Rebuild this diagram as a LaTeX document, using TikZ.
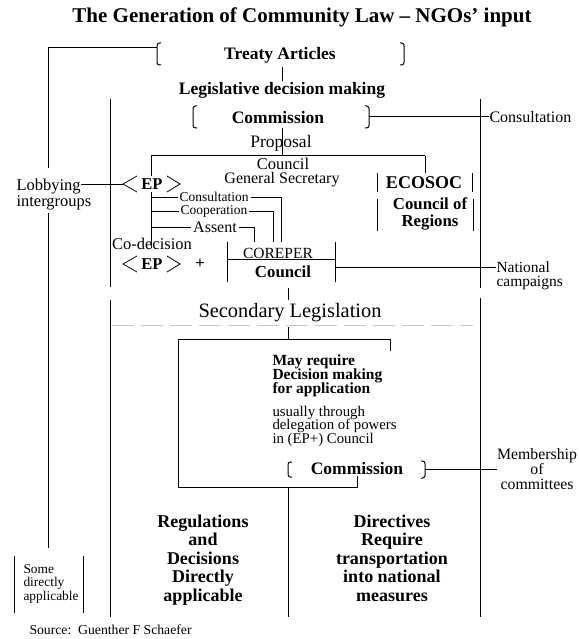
\documentclass[tikz,border=0pt]{standalone}
\usepackage{fontspec}
\setmainfont{Liberation Serif}
\usepackage{tikz}
\newcommand{\tightlines}{\lineskiplimit=-20pt\relax}

\begin{document}
\begin{tikzpicture}[x=1pt,y=-1pt,line width=1pt,
  every node/.style={inner sep=0pt},
  txt/.style={font=\fontsize{#1}{#1}\selectfont},
  btxt/.style={font=\fontsize{#1}{#1}\selectfont\bfseries},
  brack/.style={rounded corners=2.5pt},
  angl/.style={line width=0.8pt}]
\useasboundingbox (0,0) rectangle (578,639);

% Title
\node[btxt=21] (title) at (302,17) {The Generation of Community Law – NGOs’ input};

% Frame lines
\draw (48,48) -- (48,168);
\draw (48,213) -- (48,548);
\draw (110,99) -- (110,287);
\draw (110,300) -- (110,617);
\draw (480,99) -- (480,288);
\draw (480,298) -- (480,617);

% Treaty articles
\node[btxt=17.5] (treaty) at (280,55) {Treaty Articles};
\draw[brack] (161,43) -- (157,43) -- (157,65) -- (161,65);
\draw[brack] (400,43) -- (404,43) -- (404,65) -- (400,65);
\coordinate (treatyL) at (157,48);
\draw (treatyL) -- (treatyL -| 48,0);
\node[btxt=17.5] (legis) at (282,90) {Legislative decision making};
\draw[shorten >=4pt] (legis.north) -- (legis.north |- treaty.south);

% Commission -- consultation
\node[btxt=17.5] (comm) at (278,118) {Commission};
\draw[brack] (197,106) -- (193,106) -- (193,128) -- (197,128);
\draw[brack] (365,106) -- (369,106) -- (369,128) -- (365,128);
\coordinate (commR) at (369,117);
\node[txt=16,anchor=west] (consult) at (489,117) {Consultation};
\draw (commR) -- (consult.west);

% Proposal
\node[txt=17.5] (prop) at (281,143) {Proposal};
\coordinate (split) at (282,156);
\draw (split |- 0,128) -- (split);
\coordinate (epTop) at (151,156);
\coordinate (ecoTop) at (425,156);
\draw (epTop) -- (ecoTop);

% Council General Secretary
\node[txt=16.5] (council) at (283,163.5) {Council};
\node[txt=16] (gensec) at (282,180) {General Secretary};

% EP
\node[btxt=16.5] (ep1) at (152,184) {EP};
\coordinate (ep1L) at (123,184);
\draw[angl] (137,176) -- (ep1L) -- (137,192);
\draw[angl] (167,176) -- (180,184) -- (167,192);
\draw (epTop) -- (151,176);
\node[txt=16.5,anchor=west] (lobby) at (16,187) {Lobbying};
\node[txt=16.5,anchor=west] (intergr) at (16,203) {intergroups};
\draw (lobby.east |- ep1L) -- (ep1L);

% Procedures
\coordinate (epBot) at (151,192);
\draw (epBot) -- (151,248);
\node[txt=13.5,inner xsep=1.5pt] (cons2) at (214,197) {Consultation};
\node[txt=13.5,inner xsep=1.5pt] (coop) at (214,211) {Cooperation};
\node[txt=16,inner xsep=1.5pt] (assent) at (215,227) {Assent};
\coordinate (consEnd) at (281,242);
\coordinate (coopEnd) at (273,242);
\coordinate (assEnd) at (254,242);
\draw (epBot |- cons2) -- (cons2.west);
\draw (cons2.east) -- (cons2.east -| consEnd) -- (consEnd);
\draw (epBot |- coop) -- (coop.west);
\draw (coop.east) -- (coop.east -| coopEnd) -- (coopEnd);
\draw (epBot |- assent) -- (assent.west);
\draw (assent.east) -- (assent.east -| assEnd) -- (assEnd);

% Co-decision
\node[txt=16.5] (codec) at (152,244) {Co-decision};
\node[btxt=16.5] (ep2) at (152,264) {EP};
\draw[angl] (137,256) -- (123,264) -- (137,272);
\draw[angl] (167,256) -- (180,264) -- (167,272);
\node[btxt=16.5] (plus) at (200,264) {+};

% COREPER Council
\draw (227,242) -- (227,282);
\draw (335,242) -- (335,282);
\node[txt=15.5] (corep) at (278,253) {COREPER};
\node[btxt=16.8] (council2) at (283,272) {Council};
\coordinate (corepL) at (227,259);
\coordinate (corepR) at (335,259);
\draw (corepL) -- (corepR);
\node[txt=15.5,anchor=west] (natl) at (496,267) {National};
\node[txt=15.5,anchor=west] (campg) at (496,283) {campaigns};
\draw (corepR |- natl.west) -- (natl.west);
\draw (288,288) -- (288,300);

% ECOSOC, Council of Regions
\node[btxt=18] (ecosoc) at (424,183) {ECOSOC};
\draw (377,173) -- (377,192);
\draw (472,173) -- (472,192);
\draw (ecoTop) -- (425,173);
\node[font=\fontsize{16.8}{17}\selectfont\bfseries,align=center] (regions) at (430,214) {Council of\\Regions};
\draw (377,199) -- (377,231);
\draw (473,199) -- (473,231);

% Secondary legislation
\node[txt=20.4] (secleg) at (290,313) {Secondary Legislation};
\draw[gray!45,dash pattern=on 22pt off 7pt] (112,325) -- (473,325);
\draw (288,327) -- (288,339);
\draw (390,351) -- (390,339) -- (178,339) -- (178,487) -- (357,487) -- (357,476);
\node[font=\fontsize{15.5}{14}\selectfont\bfseries\tightlines,align=left,anchor=north west] (mayreq) at (272,354) {May require\\Decision making\\for application};
\node[font=\fontsize{14.8}{13.7}\selectfont\tightlines,align=left,anchor=north west] (usual) at (272,405.5) {usually through\\delegation of powers\\in (EP+) Council};

% Commission -- committees
\node[btxt=17.5] (comm2) at (357,469) {Commission};
\draw[brack] (292,462) -- (288,462) -- (288,477) -- (292,477);
\draw[brack] (421,461) -- (425,461) -- (425,478) -- (421,478);
\node[font=\fontsize{15.8}{15}\selectfont,align=center] (member) at (537,469) {Membership\\of\\committees};
\draw (425,469) -- (member.west);
\draw (288,487) -- (288,617);

% Outcomes
\node[font=\fontsize{18}{18.5}\selectfont\bfseries,align=center] (regs) at (203,560) {Regulations\\and\\Decisions\\Directly\\applicable};
\node[font=\fontsize{18}{18.5}\selectfont\bfseries,align=center] (dirs) at (392,558) {Directives\\Require\\transportation\\into national\\measures};
\node[font=\fontsize{13.4}{13.5}\selectfont,align=left,anchor=west] (some) at (23,583.5) {Some\\directly\\applicable};
\draw (14,556) -- (14,613);
\draw (83,556) -- (83,613);

% Source
\node[txt=13.7,anchor=west] (src) at (29,630) {Source:\ \ Guenther F Schaefer};

\end{tikzpicture}
\end{document}
